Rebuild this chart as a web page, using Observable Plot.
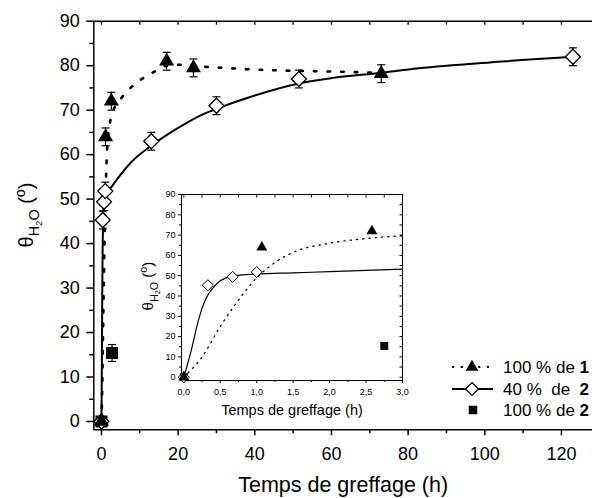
<!DOCTYPE html>
<html><head><meta charset="utf-8">
<script src="https://cdn.jsdelivr.net/npm/d3@7"></script>
<script src="https://cdn.jsdelivr.net/npm/@observablehq/plot@0.6"></script>
<style>
body{margin:0;background:#fff;}
#wrap{position:relative;width:592px;height:498px;overflow:hidden;background:#fff;font-family:"Liberation Sans",Arial,sans-serif;}
#wrap svg{position:absolute;}
</style></head><body><div id="wrap"></div>
<script>
// ---- data ----
// series "100 % de 1" (filled triangles)
const s1X = [0, 1.07, 2.58, 17, 24, 73];
const s1Y = [0, 64, 72, 81, 79.5, 78.2];
const s1Err = [0, 2, 2, 2, 2, 2];
// series "40 % de 2" (open diamonds)
const s2X = [0, 0.33, 0.67, 1.0, 13, 30, 51.5, 123];
const s2Y = [0, 45.3, 49.4, 51.8, 63, 71, 77, 82];
const s2Err = [0, 2, 2, 2, 2, 2, 2, 2];
// series "100 % de 2" (filled squares)
const s3X = [0, 2.75];
const s3Y = [0, 15.4];
const s3Err = [0, 1.9];
// fitted curve of series 1 (dotted)
const fit1X = [0, 0.25, 0.5, 0.75, 1.0, 1.25, 1.5, 2.0, 2.5, 3, 5, 7, 10, 13.5, 17, 20, 28, 41, 64, 73];
const fit1Y = [0, 10, 25, 38, 49, 56.5, 61.5, 66, 68.3, 69.7, 72.5, 74.5, 76.7, 78.5, 80, 80.2, 79.7, 79.1, 78.6, 78.4];
// fitted curve of series 2 (solid)
const fit2X = [0, 0.1, 0.2, 0.3, 0.4, 0.5, 0.6, 0.7, 1.0, 1.5, 2, 3, 5, 8, 13, 20, 26, 30, 40, 51.5, 60, 73, 81.5, 99, 123];
const fit2Y = [0, 13, 28, 38.5, 44, 47.5, 49.2, 50, 50.8, 51.4, 52, 53.2, 55.5, 58.5, 62, 66, 68.9, 70.3, 73.3, 76, 77.2, 78.4, 79.3, 80.6, 82];
// legend
const legendText = ["100 % de\u00A0", "40 %\u00A0\u00A0de\u00A0\u00A0", "100 % de\u00A0"];
const legendBold = ["1", "2", "2"];
// ticks
const xTicksMain = [0, 20, 40, 60, 80, 100, 120];
const xMinorMain = [10, 30, 50, 70, 90, 110];
const xTopMain = [0, 10, 20, 30, 40, 50, 60, 70, 80, 90, 100, 110, 120];
const yTicksMain = [0, 10, 20, 30, 40, 50, 60, 70, 80, 90];
const yMinorMain = [5, 15, 25, 35, 45, 55, 65, 75, 85];
const xTicksIn = [0, 0.5, 1.0, 1.5, 2.0, 2.5, 3.0];
const xMinorIn = [0.25, 0.75, 1.25, 1.75, 2.25, 2.75];
const xTopIn = [0, 0.25, 0.5, 0.75, 1.0, 1.25, 1.5, 1.75, 2.0, 2.25, 2.5, 2.75, 3.0];
const yTicksIn = [0, 10, 20, 30, 40, 50, 60, 70, 80, 90];
const yMinorIn = [5, 15, 25, 35, 45, 55, 65, 75, 85];
const yRightIn = [0, 5, 10, 15, 20, 25, 30, 35, 40, 45, 50, 55, 60, 65, 70, 75, 80, 85, 90];
const xTitle = "Temps de greffage (h)";

// ---- build tables ----
const pts = (X, Y, E) => X.map((x, i) => ({x, y: Y[i], e: E ? E[i] : 0}));
const s1 = pts(s1X, s1Y, s1Err), s2 = pts(s2X, s2Y, s2Err), s3 = pts(s3X, s3Y, s3Err);
const fit1 = pts(fit1X, fit1Y), fit2 = pts(fit2X, fit2Y);

const tickDown = L => ({draw(c){c.moveTo(0,0); c.lineTo(0,L);}});
const tickLeft = L => ({draw(c){c.moveTo(0,0); c.lineTo(-L,0);}});
const cap = w => ({draw(c){c.moveTo(-w/2,0); c.lineTo(w/2,0);}});
const FONT = "'Liberation Sans', Arial, sans-serif";

function errMarks(data, w) {
  const d = data.filter(p => p.e > 0);
  return [
    Plot.ruleX(d, {x: "x", y1: p => p.y - p.e, y2: p => p.y + p.e, stroke: "black", strokeWidth: 1.2}),
    Plot.dot(d, {x: "x", y: p => p.y + p.e, symbol: cap(w), r: 1, stroke: "black", fill: "none", strokeWidth: 1.2}),
    Plot.dot(d, {x: "x", y: p => p.y - p.e, symbol: cap(w), r: 1, stroke: "black", fill: "none", strokeWidth: 1.2})
  ];
}

function yLabel(svg, x, y, F) {
  const t = d3.select(svg).append("text")
    .attr("transform", `translate(${x},${y}) rotate(-90)`)
    .attr("text-anchor", "middle").attr("font-size", F)
    .attr("font-family", FONT).attr("fill", "black");
  t.append("tspan").text("θ");
  t.append("tspan").attr("font-size", F * 0.72).attr("dy", F * 0.32).text("H");
  t.append("tspan").attr("font-size", F * 0.48).attr("dy", F * 0.14).text("2");
  t.append("tspan").attr("font-size", F * 0.72).attr("dy", -F * 0.14).text("O");
  t.append("tspan").attr("dy", -F * 0.32).text("\u00A0(");
  t.append("tspan").attr("font-size", F * 0.72).attr("dy", -F * 0.42).text("o");
  t.append("tspan").attr("dy", F * 0.42).text(")");
}

// ---- main chart ----
const xDom = [-2, 128.1], yDom = [-1.87, 90];
const main = Plot.plot({
  width: 592, height: 498,
  marginLeft: 93.3, marginRight: 0, marginTop: 20.7, marginBottom: 68.7,
  x: {domain: xDom}, y: {domain: yDom},
  style: {fontFamily: FONT, background: "white", color: "black"},
  marks: [
    Plot.ruleX([xDom[0]], {stroke: "black", strokeWidth: 1.5}),
    Plot.ruleY([yDom[0], yDom[1]], {stroke: "black", strokeWidth: 1.5}),
    Plot.axisX(xTicksMain, {anchor: "bottom", tickSize: 6, tickPadding: 11, fontSize: 18, label: null, strokeWidth: 1.5}),
    Plot.axisX(xMinorMain, {anchor: "bottom", tickSize: 4, tickFormat: () => "", label: null, strokeWidth: 1.5}),
    Plot.dot(xTopMain, {x: d => d, frameAnchor: "top", symbol: tickDown(3.5), r: 1, stroke: "black", fill: "none", strokeWidth: 1.3}),
    Plot.axisY(yTicksMain, {anchor: "left", tickSize: 7, tickPadding: 7, fontSize: 18, label: null, strokeWidth: 1.5}),
    Plot.axisY(yMinorMain, {anchor: "left", tickSize: 4, tickFormat: () => "", label: null, strokeWidth: 1.5}),
    Plot.line(fit1, {x: "x", y: "y", curve: "monotone-x", stroke: "black", strokeWidth: 2.6, strokeDasharray: "2.6,11"}),
    Plot.line(fit2, {x: "x", y: "y", curve: "monotone-x", stroke: "black", strokeWidth: 2}),
    ...errMarks(s1, 8), ...errMarks(s2, 8), ...errMarks(s3, 8),
    Plot.dot(s3, {x: "x", y: "y", symbol: "square", r: 6.77, fill: "black", stroke: "none"}),
    Plot.dot(s2, {x: "x", y: "y", symbol: "diamond2", r: 6.76, fill: "white", stroke: "black", strokeWidth: 1.3}),
    Plot.dot(s1, {x: "x", y: "y", symbol: "triangle", r: 5.6, fill: "black", stroke: "none"}),
    Plot.text([xTitle], {frameAnchor: "bottom", lineAnchor: "middle", dy: 55, fontSize: 21.5, fill: "black"})
  ]
});
main.style.left = "0px"; main.style.top = "0px";
yLabel(main, 33, 215, 20);

// ---- inset ----
const ixDom = [-0.032, 3.0], iyDom = [-1.63, 90];
const inX = p => p.x <= 3.0001;
const inset = Plot.plot({
  width: 271, height: 236,
  marginLeft: 40, marginRight: 10, marginTop: 10, marginBottom: 40,
  x: {domain: ixDom}, y: {domain: iyDom},
  style: {fontFamily: FONT, background: "transparent", color: "black", overflow: "visible"},
  marks: [
    Plot.frame({fill: "white", stroke: "black", strokeWidth: 1}),
    Plot.axisX(xTicksIn, {anchor: "bottom", tickSize: 3, tickPadding: 5, fontSize: 9, label: null,
      tickFormat: d => d.toFixed(1).replace(".", ",")}),
    Plot.axisX(xMinorIn, {anchor: "bottom", tickSize: 2, tickFormat: () => "", label: null}),
    Plot.dot(xTopIn, {x: d => d, frameAnchor: "top", symbol: tickDown(3), r: 1, stroke: "black", fill: "none", strokeWidth: 1}),
    Plot.axisY(yTicksIn, {anchor: "left", tickSize: 3, tickPadding: 3, fontSize: 9, label: null}),
    Plot.axisY(yMinorIn, {anchor: "left", tickSize: 2, tickFormat: () => "", label: null}),
    Plot.dot(yRightIn, {y: d => d, frameAnchor: "right", symbol: tickLeft(3), r: 1, stroke: "black", fill: "none", strokeWidth: 1}),
    Plot.line(fit1.filter(inX), {x: "x", y: "y", curve: "monotone-x", stroke: "black", strokeWidth: 1.3, strokeDasharray: "1.3,5"}),
    Plot.line(fit2.filter(inX), {x: "x", y: "y", curve: "monotone-x", stroke: "black", strokeWidth: 1.2}),
    Plot.dot(s3.filter(inX), {x: "x", y: "y", symbol: "square", r: 4.5, fill: "black", stroke: "none"}),
    Plot.dot(s2.filter(inX), {x: "x", y: "y", symbol: "diamond2", r: 5, fill: "white", stroke: "black", strokeWidth: 1}),
    Plot.dot(s1.filter(inX), {x: "x", y: "y", symbol: "triangle", r: 4.1, fill: "black", stroke: "none"}),
    Plot.text([xTitle], {frameAnchor: "bottom", lineAnchor: "middle", dy: 29.9, fontSize: 14.5, fill: "black"})
  ]
});
inset.style.left = "141px"; inset.style.top = "184px";
yLabel(inset, 12, 102, 15);

// ---- legend ----
const leg = d3.create("svg").attr("width", 152).attr("height", 75)
  .style("left", "440px").style("top", "350px");
const rowsY = [17, 39, 60];
const symX = 32, lineX1 = 12, lineX2 = 53, textX = 63;
// row 1
leg.append("line").attr("x1", lineX1).attr("x2", lineX2).attr("y1", rowsY[0]).attr("y2", rowsY[0])
  .attr("stroke", "black").attr("stroke-width", 2.2).attr("stroke-dasharray", "2.2,6.5");
leg.append("path").attr("d", d3.symbol(d3.symbolTriangle, 70)()).attr("transform", `translate(${symX},${rowsY[0]})`).attr("fill", "black");
// row 2
leg.append("line").attr("x1", lineX1).attr("x2", lineX2).attr("y1", rowsY[1]).attr("y2", rowsY[1])
  .attr("stroke", "black").attr("stroke-width", 2);
leg.append("path").attr("d", d3.symbol(d3.symbolDiamond2, 105)()).attr("transform", `translate(${symX},${rowsY[1]})`).attr("fill", "white").attr("stroke", "black").attr("stroke-width", 1.3);
// row 3
leg.append("path").attr("d", d3.symbol(d3.symbolSquare, 72)()).attr("transform", `translate(${symX + 1},${rowsY[2]})`).attr("fill", "black");
legendText.forEach((t, i) => {
  const tx = leg.append("text").attr("x", textX).attr("y", rowsY[i]).attr("dy", "0.35em")
    .attr("font-size", 17).attr("font-family", FONT).attr("fill", "black");
  tx.append("tspan").text(t);
  tx.append("tspan").attr("font-weight", "bold").text(legendBold[i]);
});

const wrap = document.getElementById("wrap");
wrap.appendChild(main);
wrap.appendChild(inset);
wrap.appendChild(leg.node());
</script></body></html>
